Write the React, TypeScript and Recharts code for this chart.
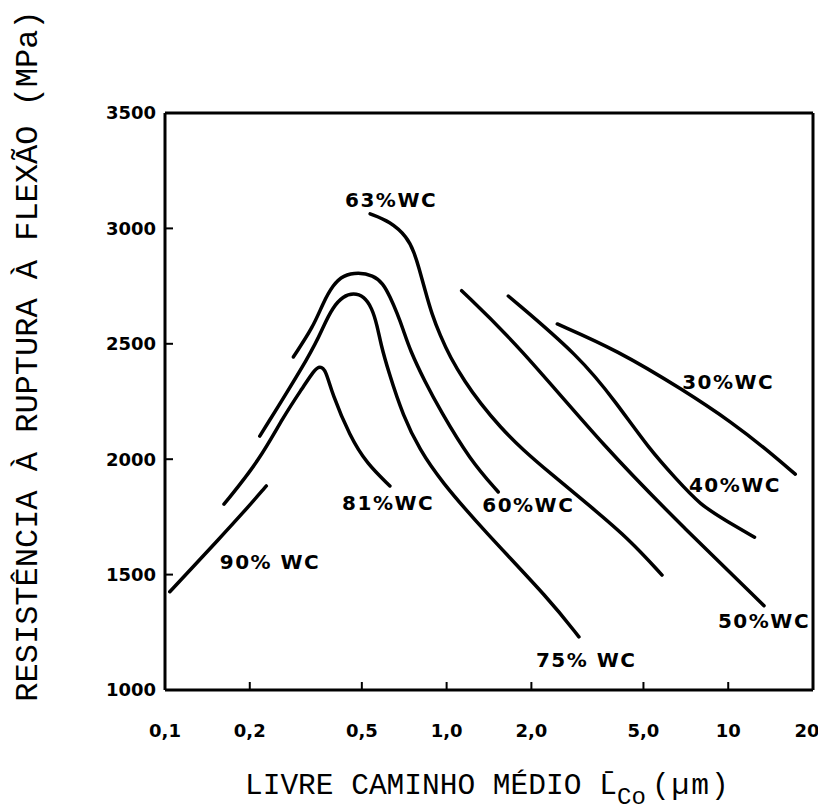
import React from "react";
import {
  ComposedChart,
  Line,
  XAxis,
  YAxis,
  Scatter,
  ReferenceLine,
  Label,
} from "recharts";

// ---- data (x: mean free path of Co, µm ; y: transverse rupture strength, MPa) ----
const curve90 = [
  { x: 0.104, y: 1426 },
  { x: 0.125, y: 1530 },
  { x: 0.153, y: 1645 },
  { x: 0.19, y: 1770 },
  { x: 0.229, y: 1884 },
];
const curve81 = [
  { x: 0.162, y: 1805 },
  { x: 0.217, y: 1997 },
  { x: 0.263, y: 2184 },
  { x: 0.31, y: 2314 },
  { x: 0.338, y: 2385 },
  { x: 0.355, y: 2405 },
  { x: 0.373, y: 2385 },
  { x: 0.391, y: 2287 },
  { x: 0.454, y: 2098 },
  { x: 0.52, y: 1982 },
  { x: 0.629, y: 1884 },
];
const curve75 = [
  { x: 0.217, y: 2100 },
  { x: 0.336, y: 2473 },
  { x: 0.364, y: 2573 },
  { x: 0.395, y: 2660 },
  { x: 0.429, y: 2706 },
  { x: 0.467, y: 2720 },
  { x: 0.509, y: 2706 },
  { x: 0.543, y: 2655 },
  { x: 0.566, y: 2582 },
  { x: 0.585, y: 2495 },
  { x: 0.619, y: 2387 },
  { x: 0.702, y: 2183 },
  { x: 0.804, y: 2040 },
  { x: 0.948, y: 1910 },
  { x: 1.35, y: 1693 },
  { x: 2.33, y: 1390 },
  { x: 2.95, y: 1230 },
];
const curve60 = [
  { x: 0.2855, y: 2443 },
  { x: 0.336, y: 2573 },
  { x: 0.364, y: 2677 },
  { x: 0.395, y: 2755 },
  { x: 0.429, y: 2797 },
  { x: 0.486, y: 2810 },
  { x: 0.548, y: 2797 },
  { x: 0.594, y: 2763 },
  { x: 0.63, y: 2703 },
  { x: 0.667, y: 2633 },
  { x: 0.702, y: 2560 },
  { x: 0.741, y: 2473 },
  { x: 0.838, y: 2335 },
  { x: 0.948, y: 2213 },
  { x: 1.21, y: 1997 },
  { x: 1.526, y: 1858 },
];
const curve63 = [
  { x: 0.535, y: 3063 },
  { x: 0.63, y: 3030 },
  { x: 0.724, y: 2963 },
  { x: 0.766, y: 2898 },
  { x: 0.798, y: 2829 },
  { x: 0.838, y: 2733 },
  { x: 0.888, y: 2625 },
  { x: 0.948, y: 2538 },
  { x: 1.028, y: 2443 },
  { x: 1.162, y: 2335 },
  { x: 1.314, y: 2244 },
  { x: 1.547, y: 2140 },
  { x: 1.867, y: 2040 },
  { x: 2.329, y: 1940 },
  { x: 3.23, y: 1797 },
  { x: 4.48, y: 1650 },
  { x: 5.82, y: 1498 },
];
const curve50 = [
  { x: 1.131, y: 2730 },
  { x: 1.775, y: 2502 },
  { x: 3.7, y: 2040 },
  { x: 7.0, y: 1700 },
  { x: 13.4, y: 1365 },
];
const curve40 = [
  { x: 1.656, y: 2707 },
  { x: 2.977, y: 2444 },
  { x: 4.02, y: 2242 },
  { x: 5.275, y: 2040 },
  { x: 6.5, y: 1918 },
  { x: 7.94, y: 1802 },
  { x: 10.0, y: 1728 },
  { x: 12.4, y: 1662 },
];
const curve30 = [
  { x: 2.472, y: 2586 },
  { x: 4.02, y: 2473 },
  { x: 6.93, y: 2300 },
  { x: 10.4, y: 2156 },
  { x: 13.5, y: 2047 },
  { x: 17.3, y: 1935 },
];

const curveLabels = [
  { x: 0.635, y: 3123, text: "63%WC" },
  { x: 0.62, y: 1810, text: "81%WC" },
  { x: 0.236, y: 1555, text: "90% WC" },
  { x: 1.95, y: 1802, text: "60%WC" },
  { x: 3.13, y: 1130, text: "75% WC" },
  { x: 13.4, y: 1299, text: "50%WC" },
  { x: 10.0, y: 2335, text: "30%WC" },
  { x: 10.57, y: 1888, text: "40%WC" },
];

const xTicks = [0.1, 0.2, 0.5, 1, 2, 5, 10, 20];
const xTickLabels = ["0,1", "0,2", "0,5", "1,0", "2,0", "5,0", "10", "20"];
const yTicks = [1000, 1500, 2000, 2500, 3000, 3500];

const series = [curve90, curve81, curve75, curve60, curve63, curve50, curve40, curve30];

const fontTick = "DejaVu Sans";

const XTick = (props: any) => {
  const { x, y, payload, index } = props;
  const last = index === xTicks.length - 1;
  return (
    <text
      x={x + (last ? -6 : 0)}
      y={y}
      dy="0.71em"
      textAnchor="middle"
      fontFamily={fontTick}
      fontWeight={700}
      fontSize={18}
      fill="#000"
    >
      {xTickLabels[xTicks.indexOf(payload.value)] ?? String(payload.value)}
    </text>
  );
};

const YTick = (props: any) => {
  const { x, y, payload } = props;
  return (
    <text
      x={x}
      y={y}
      dy="0.355em"
      textAnchor="end"
      fontFamily={fontTick}
      fontWeight={700}
      fontSize={18}
      fill="#000"
    >
      {payload.value}
    </text>
  );
};

const LabelShape = (props: any) => {
  const { cx, cy, payload } = props;
  return (
    <text
      x={cx}
      y={cy}
      textAnchor="middle"
      dominantBaseline="central"
      fontFamily="DejaVu Sans"
      fontWeight={700}
      fontSize={20}
      letterSpacing={1.5}
      fill="#000"
    >
      {payload.text}
    </text>
  );
};

export default function App() {
  return (
    <>
      <style>{"html,body{overflow:hidden}"}</style>
      <ComposedChart
        width={818}
        height={802}
        margin={{ top: 105, right: 13, bottom: 0, left: 0 }}
      >
        <XAxis
          dataKey="x"
          type="number"
          scale="log"
          domain={[0.1, 20]}
          allowDataOverflow
          ticks={xTicks}
          interval={0}
          height={120}
          axisLine={{ stroke: "#000", strokeWidth: 3 }}
          tickLine={{ stroke: "#000", strokeWidth: 2 }}
          tickSize={-8}
          tickMargin={42}
          tick={<XTick />}
        >
          <Label
            content={() => (
              <text
                x={237}
                y={786}
                fontFamily="Liberation Mono"
                fontSize={29.5}
                fill="#000"
              >
                LIVRE CAMINHO MÉDIO
                <tspan dx={18}>L̄</tspan>
                <tspan fontSize={24} dy={10}>Co</tspan>
                <tspan dy={-10} dx={6} letterSpacing={2}>(µm)</tspan>
              </text>
            )}
          />
        </XAxis>
        <YAxis
          type="number"
          domain={[1000, 3500]}
          ticks={yTicks}
          interval={0}
          width={157}
          axisLine={{ stroke: "#000", strokeWidth: 3 }}
          tickLine={{ stroke: "#000", strokeWidth: 2 }}
          tickSize={-8}
          tickMargin={17}
          tick={<YTick />}
        >
          <Label
            content={() => (
              <text
                x={20}
                y={348}
                transform="rotate(-90 20 348)"
                textAnchor="middle"
                dominantBaseline="central"
                fontFamily="Liberation Mono"
                fontSize={32}
                fill="#000"
              >
                RESISTÊNCIA À RUPTURA À FLEXÃO (MPa)
              </text>
            )}
          />
        </YAxis>
        <ReferenceLine y={3500} stroke="#000" strokeWidth={3} />
        <ReferenceLine x={20} stroke="#000" strokeWidth={3} />
        {series.map((d, i) => (
          <Line
            key={i}
            data={d}
            dataKey="y"
            type="basis"
            dot={false}
            activeDot={false}
            stroke="#000"
            strokeWidth={3.5}
            strokeLinecap="round"
            isAnimationActive={false}
          />
        ))}
        <Scatter
          data={curveLabels}
          dataKey="y"
          shape={LabelShape}
          isAnimationActive={false}
        />
      </ComposedChart>
    </>
  );
}
